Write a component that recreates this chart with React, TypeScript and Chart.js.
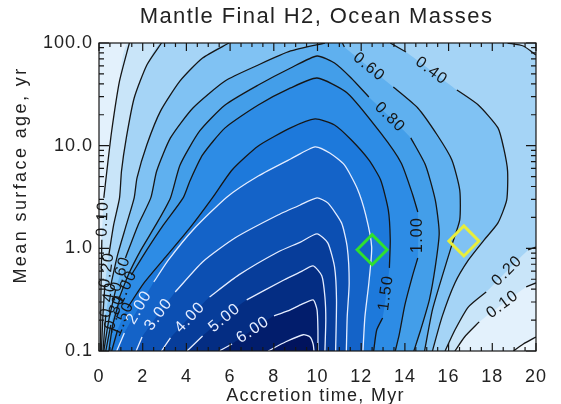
import React, { useEffect, useRef } from "react";
import { Chart, registerables } from "chart.js";

Chart.register(...registerables);

type P = [number, number];

// contour levels (ocean masses)
const LEVELS = [0.05, 0.1, 0.2, 0.4, 0.6, 0.8, 1.0, 1.5, 2, 3, 4, 5, 6, 7];

// contour paths: [accretion time Myr, mean surface age yr]
const C005: P[] = [[0, 0.1], [0, 100], [20, 100], [20, 0.137], [19.42, 0.117], [18.97, 0.1]];
const C010: P[] = [[0.07, 0.1], [0.09, 0.394], [0.13, 1.21], [0.22, 3.1], [0.36, 5.67], [0.58, 13.9], [0.94, 42.7], [1.39, 100], [20, 100], [20, 0.46], [19.55, 0.421], [17.4, 0.192], [16.73, 0.137], [16.29, 0.1]];
const C020: P[] = [[0.11, 0.1], [0.18, 0.225], [0.27, 0.44], [0.45, 0.863], [0.67, 1.69], [0.94, 3.1], [1.03, 5.67], [1.25, 11.9], [1.61, 29.1], [2.19, 61.1], [2.86, 100], [18.7, 100], [19.42, 93.5], [20, 76.4], [20, 1.03], [19.64, 0.965], [17.72, 0.376], [16.91, 0.269], [16.29, 0.16], [15.84, 0.1]];
const C040: P[] = [[0.18, 0.1], [0.31, 0.225], [0.54, 0.44], [0.85, 0.863], [1.25, 1.69], [1.61, 3.1], [1.74, 4.85], [2.19, 10.2], [2.82, 21.8], [3.71, 42.7], [4.74, 71.4], [5.95, 100], [13.33, 100], [14.05, 81.8], [16.38, 34.9], [17.36, 24.9], [18.26, 14.9], [18.52, 9.5], [18.7, 5.67], [18.66, 2.96], [18.26, 1.77], [17.63, 1.21], [16.91, 0.771], [16.29, 0.46], [15.7, 0.215], [15.26, 0.1]];
const C060: P[] = [[0.22, 0.1], [0.45, 0.201], [0.76, 0.394], [1.21, 0.806], [1.79, 1.69], [2.37, 3.1], [2.64, 5.67], [3.27, 11.9], [4.3, 23.3], [5.77, 42.7], [7.29, 61.1], [8.77, 83.6], [10.34, 100], [11.14, 100], [11.23, 91.4], [13.47, 37.3], [14.59, 23.3], [15.48, 12.7], [16.15, 7.26], [16.51, 3.7], [16.51, 1.89], [16.15, 1.08], [15.7, 0.527], [15.26, 0.251], [14.9, 0.1]];
const C080: P[] = [[0.31, 0.1], [0.54, 0.18], [0.89, 0.315], [1.34, 0.551], [1.92, 0.965], [2.6, 1.69], [3.27, 3.1], [3.71, 6.49], [4.61, 13.9], [5.77, 24.9], [7.29, 39], [8.77, 57.1], [9.98, 74.7], [10.78, 63.8], [11.54, 45.6], [12.35, 29.8], [14.27, 11.9], [14.94, 6.49], [15.39, 2.96], [15.57, 1.41], [15.39, 0.659], [15.12, 0.315], [14.72, 0.16], [14.41, 0.1]];
const C100: P[] = [[0.45, 0.1], [0.63, 0.18], [0.94, 0.315], [1.48, 0.551], [2.19, 0.965], [2.95, 1.69], [3.85, 3.1], [4.16, 4.53], [4.74, 8.12], [5.77, 14.9], [7.29, 24.9], [8.77, 36.5], [9.98, 45.6], [11.36, 32.6], [12.89, 13.3], [13.83, 6.79], [14.36, 3.31], [14.59, 2.26], [14.59, 0.806], [14.36, 0.551], [14.0, 0.281], [13.74, 0.144], [13.56, 0.1]];
const C150: P[] = [[0.58, 0.1], [0.85, 0.16], [1.3, 0.263], [2.06, 0.46], [3.09, 0.843], [4.16, 1.58], [5.19, 3.1], [6.09, 5.8], [7.29, 9.93], [8.77, 14.9], [9.89, 18.2], [10.78, 15.9], [11.54, 11.4], [12.35, 7.26], [12.89, 4.63], [13.24, 2.37], [13.33, 1.21], [13.29, 0.645], [12.98, 0.21], [12.71, 0.16], [12.57, 0.1]];
const C200: P[] = [[0.81, 0.1], [1.16, 0.15], [2.51, 0.471], [3.18, 0.771], [4.3, 1.51], [5.86, 3.17], [7.29, 5.07], [8.77, 7.42], [9.89, 9.73], [10.56, 8.49], [11.23, 6.49], [11.81, 3.87], [12.21, 2.11], [12.48, 1.03], [12.35, 0.46], [12.17, 0.215], [12.08, 0.1]];
const C300: P[] = [[1.7, 0.1], [1.97, 0.137], [3.49, 0.376], [4.74, 0.737], [6.22, 1.26], [8.19, 2.11], [9.22, 2.65], [9.98, 3.1], [10.47, 2.77], [11.1, 1.77], [11.36, 1.03], [11.45, 0.46], [11.36, 0.215], [11.32, 0.1]];
const C400: P[] = [[2.86, 0.1], [3.27, 0.134], [5.06, 0.336], [6.4, 0.551], [8.19, 0.922], [9.22, 1.15], [9.98, 1.38], [10.47, 1.13], [10.78, 0.659], [10.87, 0.315], [10.83, 0.1]];
const C500: P[] = [[4.03, 0.1], [4.74, 0.14], [6.76, 0.315], [8.46, 0.492], [9.22, 0.589], [9.8, 0.674], [10.2, 0.538], [10.34, 0.336], [10.38, 0.201], [10.34, 0.1]];
const C600: P[] = [[5.5, 0.1], [6.09, 0.117], [8.01, 0.22], [8.64, 0.246], [9.22, 0.281], [9.8, 0.315], [9.98, 0.251], [10.02, 0.16], [10.02, 0.1]];
const C700: P[] = [[7.74, 0.1], [8.55, 0.123], [9.35, 0.144], [9.66, 0.137], [9.8, 0.117], [9.84, 0.1]];

const CONTOURS: P[][] = [C005, C010, C020, C040, C060, C080, C100, C150, C200, C300, C400, C500, C600, C700];

// contour labels: [level, segment index along its path]
const LABELS: [number, number][] = [
  [0.1, 2], [0.1, 10], [0.2, 2], [0.2, 15], [0.4, 1], [0.4, 13], [0.6, 2], [0.6, 14],
  [0.8, 1], [0.8, 15], [1.0, 2], [1.0, 17], [1.5, 1], [1.5, 17],
  [2, 1], [3, 1], [4, 1], [5, 1], [6, 1],
];

const X_TICKS = [0, 2, 4, 6, 8, 10, 12, 14, 16, 18, 20];
const Y_TICKS = [0.1, 1, 10, 100];

const GREEN_PT: P = [12.5, 0.97];
const YELLOW_PT: P = [16.7, 1.18];

const TITLE = "Mantle Final H2, Ocean Masses";
const X_TITLE = "Accretion time, Myr";
const Y_TITLE = "Mean surface age, yr";

// styles
const BG = "#f2f9fe";
const BAND = ["#e3f1fc", "#c9e5f9", "#a5d4f6", "#80c2f3", "#5fb0ef", "#439ee9", "#2d8ce5", "#1d79db", "#1463c8", "#0c4fb2", "#073d9a", "#042d83", "#021d6c", "#01135d"];
const DARK = "#161616";
const LIGHT = "#e4ecff";
const FONT = '"Liberation Sans", Arial, sans-serif';
const TEXT = "#222";
const TENSION = 0.2;

const onBorder = (a: P, b: P) =>
  (a[0] === 0 && b[0] === 0) || (a[0] === 20 && b[0] === 20) || (a[1] === 100 && b[1] === 100) || (a[1] === 0.1 && b[1] === 0.1);

function lineData(path: P[], lev: number) {
  const out: any[] = [];
  for (let i = 0; i < path.length; i++) {
    out.push({ x: path[i][0], y: path[i][1] });
    if (i < path.length - 1) {
      const gap = onBorder(path[i], path[i + 1]) || LABELS.some(([l, s]) => l === lev && s === i);
      if (gap) out.push({ x: (path[i][0] + path[i + 1][0]) / 2, y: null });
    }
  }
  return out;
}

const decor = {
  id: "decor",
  beforeDraw(chart: any) {
    chart.ctx.letterSpacing = "1px";
  },
  beforeDatasetsDraw(chart: any) {
    const { ctx, chartArea: a } = chart;
    ctx.save();
    ctx.fillStyle = BG;
    ctx.fillRect(a.left, a.top, a.right - a.left, a.bottom - a.top);
    ctx.restore();
  },
  afterDatasetsDraw(chart: any) {
    const { ctx, chartArea: a } = chart;
    const xs = chart.scales.x;
    const ys = chart.scales.y;
    // contour labels
    LABELS.forEach(([lev, seg]) => {
      const path = CONTOURS[LEVELS.indexOf(lev)];
      const p = path[seg];
      const q = path[seg + 1];
      const x1 = xs.getPixelForValue(p[0]);
      const y1 = ys.getPixelForValue(p[1]);
      const x2 = xs.getPixelForValue(q[0]);
      const y2 = ys.getPixelForValue(q[1]);
      let ang = Math.atan2(y2 - y1, x2 - x1);
      if (ang > Math.PI / 2 - 1e-6) ang -= Math.PI;
      if (ang < -Math.PI / 2 - 1e-6) ang += Math.PI;
      ctx.save();
      ctx.translate((x1 + x2) / 2, (y1 + y2) / 2);
      ctx.rotate(ang);
      ctx.font = `16px ${FONT}`;
      ctx.letterSpacing = "1.2px";
      ctx.textAlign = "center";
      ctx.textBaseline = "middle";
      ctx.fillStyle = lev >= 2 ? LIGHT : DARK;
      ctx.fillText(lev.toFixed(2), 0, 0);
      ctx.restore();
    });
    // frame and inward ticks
    ctx.save();
    ctx.strokeStyle = DARK;
    ctx.lineWidth = 1.2;
    ctx.strokeRect(a.left, a.top, a.right - a.left, a.bottom - a.top);
    ctx.beginPath();
    for (let v = 0; v <= 20.001; v += 0.5) {
      const px = xs.getPixelForValue(v);
      const len = Math.abs(v / 2 - Math.round(v / 2)) < 1e-6 ? 8 : 4;
      ctx.moveTo(px, a.bottom);
      ctx.lineTo(px, a.bottom - len);
      ctx.moveTo(px, a.top);
      ctx.lineTo(px, a.top + len);
    }
    for (let d = 0.1; d < 100; d *= 10) {
      for (let k = 1; k <= 10; k++) {
        const v = d * k;
        if (v > 100.0001) continue;
        const py = ys.getPixelForValue(v);
        const len = k === 1 || k === 10 ? 10 : 5;
        ctx.moveTo(a.left, py);
        ctx.lineTo(a.left + len, py);
        ctx.moveTo(a.right, py);
        ctx.lineTo(a.right - len, py);
      }
    }
    ctx.stroke();
    ctx.restore();
  },
  afterDraw(chart: any) {
    const { ctx, chartArea: a } = chart;
    const cx = (a.left + a.right) / 2;
    ctx.save();
    ctx.fillStyle = TEXT;
    ctx.textAlign = "center";
    ctx.textBaseline = "middle";
    ctx.font = `22px ${FONT}`;
    ctx.letterSpacing = "1.4px";
    ctx.fillText(TITLE, cx - 1, 17);
    ctx.font = `18px ${FONT}`;
    ctx.letterSpacing = "1.3px";
    ctx.fillText(X_TITLE, cx - 2, 396);
    ctx.translate(21, 175);
    ctx.rotate(-Math.PI / 2);
    ctx.letterSpacing = "2.4px";
    ctx.fillText(Y_TITLE, 0, 0);
    ctx.restore();
    ctx.letterSpacing = "0px";
  },
};

export default function App() {
  const ref = useRef<HTMLCanvasElement | null>(null);
  useEffect(() => {
    if (!ref.current) return;
    const datasets: any[] = [];
    datasets.push({
      data: [{ x: GREEN_PT[0], y: GREEN_PT[1] }],
      showLine: false,
      pointStyle: "rectRot",
      pointRadius: 15,
      pointBorderWidth: 3,
      pointBorderColor: "#2fe02f",
      pointBackgroundColor: "rgba(0,0,0,0)",
      order: 0,
    });
    datasets.push({
      data: [{ x: YELLOW_PT[0], y: YELLOW_PT[1] }],
      showLine: false,
      pointStyle: "rectRot",
      pointRadius: 15,
      pointBorderWidth: 3,
      pointBorderColor: "#e8ee3c",
      pointBackgroundColor: "rgba(0,0,0,0)",
      order: 0,
    });
    CONTOURS.forEach((path, i) => {
      const lev = LEVELS[i];
      datasets.push({
        data: path.map(([x, y]) => ({ x, y })),
        fill: "shape",
        backgroundColor: BAND[i],
        borderColor: "rgba(0,0,0,0)",
        borderWidth: 0,
        pointRadius: 0,
        tension: TENSION,
        order: 200 - i,
      });
      datasets.push({
        data: lineData(path, lev),
        fill: false,
        borderColor: lev >= 2 ? LIGHT : DARK,
        borderWidth: 1.3,
        pointRadius: 0,
        tension: TENSION,
        spanGaps: false,
        order: 100 - i,
      });
    });
    const chart = new Chart(ref.current, {
      type: "line",
      data: { datasets },
      options: {
        responsive: false,
        animation: false,
        devicePixelRatio: 1,
        layout: { padding: { top: 43, right: 15, left: 0, bottom: 0 } },
        plugins: { legend: { display: false }, tooltip: { enabled: false }, title: { display: false } },
        events: [],
        scales: {
          x: {
            type: "linear",
            min: 0,
            max: 20,
            afterBuildTicks: (s: any) => { s.ticks = X_TICKS.map((v) => ({ value: v })); },
            afterFit: (s: any) => { s.height = 53; },
            grid: { display: false, drawTicks: false },
            border: { display: false },
            ticks: { callback: (v: any) => String(v), font: { family: FONT, size: 18 }, color: TEXT, padding: 15, maxRotation: 0, autoSkip: false },
          },
          y: {
            type: "logarithmic",
            min: 0.1,
            max: 100,
            afterBuildTicks: (s: any) => { s.ticks = Y_TICKS.map((v) => ({ value: v })); },
            afterFit: (s: any) => { s.width = 99; },
            grid: { display: false, drawTicks: false },
            border: { display: false },
            ticks: { callback: (v: any) => Number(v).toFixed(1), font: { family: FONT, size: 18 }, color: TEXT, padding: 6, autoSkip: false },
          },
        },
      },
      plugins: [decor],
    });
    return () => chart.destroy();
  }, []);
  return (
    <div style={{ position: "fixed", left: 0, top: 0, width: 561, height: 404, background: "#fff" }}>
      <canvas ref={ref} width={561} height={404} />
    </div>
  );
}
